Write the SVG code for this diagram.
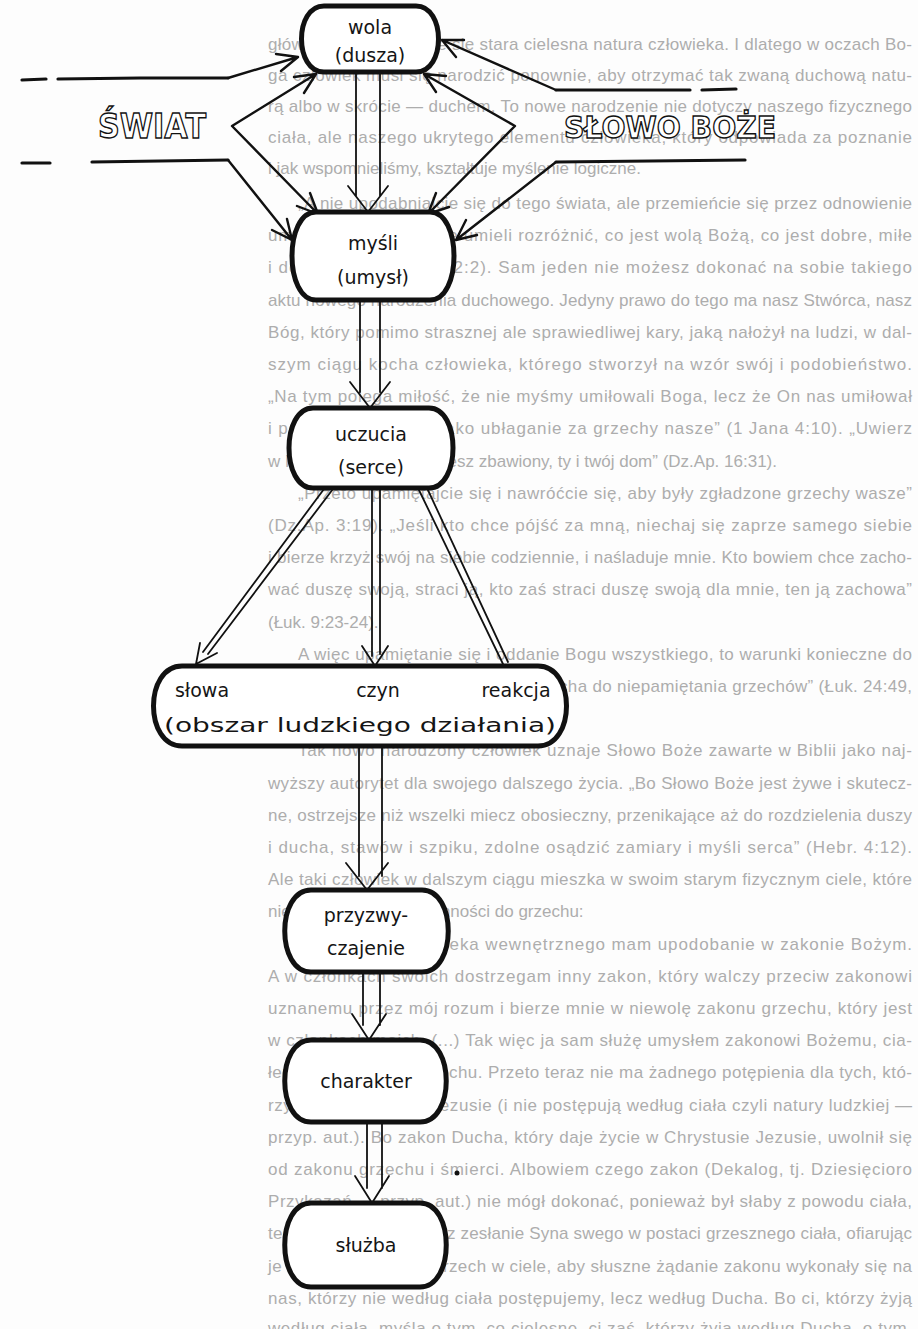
<svg xmlns="http://www.w3.org/2000/svg" width="918" height="1329" viewBox="0 0 918 1329">
<style>
.t{font-family:'Liberation Sans Narrow','Liberation Sans',Arial,sans-serif;font-size:17px;fill:#adadad}
.box{fill:#fff;stroke:#111;stroke-width:5;stroke-linejoin:round}
.lb{font-family:'DejaVu Sans',sans-serif;font-size:19px;fill:#151515;text-anchor:middle}
.big{font-family:'DejaVu Sans',sans-serif;font-weight:bold;fill:#fff;stroke:#111;stroke-width:1.4}
.ln{fill:none;stroke:#111;stroke-width:2.4;stroke-linecap:round;stroke-linejoin:round}
.hl{fill:none;stroke:#111;stroke-width:3.2;stroke-linecap:round}
.sh{fill:none;stroke:#111;stroke-width:1.8;stroke-linecap:round;stroke-linejoin:round}
</style>
<rect width="918" height="1329" fill="#fdfdfd"/>
<g id="page-text">
<text class="t" x="268" y="50" textLength="644" lengthAdjust="spacing">głównie charakteryzuje się stara cielesna natura człowieka. I dlatego w oczach Bo-</text>
<text class="t" x="268" y="81" textLength="644" lengthAdjust="spacing">ga człowiek musi się narodzić ponownie, aby otrzymać tak zwaną duchową natu-</text>
<text class="t" x="268" y="112" textLength="644" lengthAdjust="spacing">rą albo w skrócie — duchem. To nowe narodzenie nie dotyczy naszego fizycznego</text>
<text class="t" x="268" y="143" textLength="644" lengthAdjust="spacing">ciała, ale naszego ukrytego elementu człowieka, który odpowiada za poznanie</text>
<text class="t" x="268" y="174">i jak wspomnieliśmy, kształtuje myślenie logiczne.</text>
<text class="t" x="298" y="209" textLength="614" lengthAdjust="spacing">„A nie upodabniajcie się do tego świata, ale przemieńcie się przez odnowienie</text>
<text class="t" x="268" y="241" textLength="644" lengthAdjust="spacing">umysłu swego, abyście umieli rozróżnić, co jest wolą Bożą, co jest dobre, miłe</text>
<text class="t" x="268" y="273" textLength="644" lengthAdjust="spacing">i doskonałe” (Rzym. 12:2). Sam jeden nie możesz dokonać na sobie takiego</text>
<text class="t" x="268" y="306" textLength="644" lengthAdjust="spacing">aktu nowego narodzenia duchowego. Jedyny prawo do tego ma nasz Stwórca, nasz</text>
<text class="t" x="268" y="338" textLength="644" lengthAdjust="spacing">Bóg, który pomimo strasznej ale sprawiedliwej kary, jaką nałożył na ludzi, w dal-</text>
<text class="t" x="268" y="370" textLength="644" lengthAdjust="spacing">szym ciągu kocha człowieka, którego stworzył na wzór swój i podobieństwo.</text>
<text class="t" x="268" y="402" textLength="644" lengthAdjust="spacing">„Na tym polega miłość, że nie myśmy umiłowali Boga, lecz że On nas umiłował</text>
<text class="t" x="268" y="434" textLength="644" lengthAdjust="spacing">i posłał Syna swego jako ubłaganie za grzechy nasze” (1 Jana 4:10). „Uwierz</text>
<text class="t" x="268" y="467">w Pana Jezusa, a będziesz zbawiony, ty i twój dom” (Dz.Ap. 16:31).</text>
<text class="t" x="298" y="499" textLength="614" lengthAdjust="spacing">„Przeto upamiętajcie się i nawróćcie się, aby były zgładzone grzechy wasze”</text>
<text class="t" x="268" y="531" textLength="644" lengthAdjust="spacing">(Dz.Ap. 3:19). „Jeśli kto chce pójść za mną, niechaj się zaprze samego siebie</text>
<text class="t" x="268" y="563" textLength="644" lengthAdjust="spacing">i bierze krzyż swój na siebie codziennie, i naśladuje mnie. Kto bowiem chce zacho-</text>
<text class="t" x="268" y="595" textLength="644" lengthAdjust="spacing">wać duszę swoją, straci ją, kto zaś straci duszę swoją dla mnie, ten ją zachowa”</text>
<text class="t" x="268" y="628">(Łuk. 9:23-24).</text>
<text class="t" x="298" y="660" textLength="614" lengthAdjust="spacing">A więc upamiętanie się i oddanie Bogu wszystkiego, to warunki konieczne do</text>
<text class="t" x="268" y="692" textLength="644" lengthAdjust="spacing">tego, aby On dał człowiekowi moc ducha do niepamiętania grzechów” (Łuk. 24:49,</text>
<text class="t" x="268" y="724">2 Tym. 1:7).</text>
<text class="t" x="298" y="756" textLength="614" lengthAdjust="spacing">Tak nowo narodzony człowiek uznaje Słowo Boże zawarte w Biblii jako naj-</text>
<text class="t" x="268" y="789" textLength="644" lengthAdjust="spacing">wyższy autorytet dla swojego dalszego życia. „Bo Słowo Boże jest żywe i skutecz-</text>
<text class="t" x="268" y="821" textLength="644" lengthAdjust="spacing">ne, ostrzejsze niż wszelki miecz obosieczny, przenikające aż do rozdzielenia duszy</text>
<text class="t" x="268" y="853" textLength="644" lengthAdjust="spacing">i ducha, stawów i szpiku, zdolne osądzić zamiary i myśli serca” (Hebr. 4:12).</text>
<text class="t" x="268" y="885" textLength="644" lengthAdjust="spacing">Ale taki człowiek w dalszym ciągu mieszka w swoim starym fizycznym ciele, które</text>
<text class="t" x="268" y="917">nie straciło swoich skłonności do grzechu:</text>
<text class="t" x="298" y="950" textLength="614" lengthAdjust="spacing">„Bo według człowieka wewnętrznego mam upodobanie w zakonie Bożym.</text>
<text class="t" x="268" y="982" textLength="644" lengthAdjust="spacing">A w członkach swoich dostrzegam inny zakon, który walczy przeciw zakonowi</text>
<text class="t" x="268" y="1014" textLength="644" lengthAdjust="spacing">uznanemu przez mój rozum i bierze mnie w niewolę zakonu grzechu, który jest</text>
<text class="t" x="268" y="1046" textLength="644" lengthAdjust="spacing">w członkach moich. (...) Tak więc ja sam służę umysłem zakonowi Bożemu, cia-</text>
<text class="t" x="268" y="1078" textLength="644" lengthAdjust="spacing">łem zaś zakonowi grzechu. Przeto teraz nie ma żadnego potępienia dla tych, któ-</text>
<text class="t" x="268" y="1111" textLength="644" lengthAdjust="spacing">rzy są w Chrystusie Jezusie (i nie postępują według ciała czyli natury ludzkiej —</text>
<text class="t" x="268" y="1143" textLength="644" lengthAdjust="spacing">przyp. aut.). Bo zakon Ducha, który daje życie w Chrystusie Jezusie, uwolnił się</text>
<text class="t" x="268" y="1175" textLength="644" lengthAdjust="spacing">od zakonu grzechu i śmierci. Albowiem czego zakon (Dekalog, tj. Dziesięcioro</text>
<text class="t" x="268" y="1207" textLength="644" lengthAdjust="spacing">Przykazań — przyp. aut.) nie mógł dokonać, ponieważ był słaby z powodu ciała,</text>
<text class="t" x="268" y="1239" textLength="644" lengthAdjust="spacing">tego dokonał Bóg: przez zesłanie Syna swego w postaci grzesznego ciała, ofiarując</text>
<text class="t" x="268" y="1272" textLength="644" lengthAdjust="spacing">je za grzech, potępił grzech w ciele, aby słuszne żądanie zakonu wykonały się na</text>
<text class="t" x="268" y="1304" textLength="644" lengthAdjust="spacing">nas, którzy nie według ciała postępujemy, lecz według Ducha. Bo ci, którzy żyją</text>
<text class="t" x="268" y="1334" textLength="644" lengthAdjust="spacing">według ciała, myślą o tym, co cielesne, ci zaś, którzy żyją według Ducha, o tym,</text>
</g>
<g id="connectors">
<path class="hl" d="M22 80 L46 79 M58 79 L140 78 L228 78"/>
<path class="ln" d="M228 78 L298 57 M276 54 L298 57 L281 71"/>
<path class="ln" d="M294 77 L316 74 L304 93 M316 74 L232 126 L318 214 M310 193 L318 214 L297 206"/>
<path class="hl" d="M22 163 L50 163 M92 162 L228 160"/>
<path class="ln" d="M228 160 L292 240 M287 219 L292 240 L272 230"/>
<path class="hl" d="M556 90 L690 90 M702 90 L736 89"/>
<path class="ln" d="M556 90 L442 40 M456 57 L442 40 L464 40"/>
<path class="ln" d="M436 92 L424 74 L446 76 M424 74 L515 126 L428 214 M449 207 L428 214 L436 193"/>
<path class="hl" d="M556 162 L745 160"/>
<path class="ln" d="M556 162 L456 240 M477 235 L456 240 L466 220"/>
<path class="sh" d="M356 72 V196 M380 72 V196 M348 186 L368 212 L388 186"/>
<path class="sh" d="M360 300 V392 M380 300 V392 M350 382 L370 408 L390 382"/>
<path class="sh" d="M324 489 L203 652 M333 489 L208 654 M217 653 L196 664 L200 643"/>
<path class="sh" d="M372 488 V656 M380 488 V654 M362 646 L375 666 L388 646"/>
<path class="sh" d="M418 488 L503 664 M427 488 L508 662"/>
<path class="sh" d="M359 746 V876 M382 746 V876 M346 863 L367 890 L388 863"/>
<path class="sh" d="M363 972 V1025 M380 972 V1025 M352 1014 L369 1040 L386 1014"/>
<path class="sh" d="M367 1122 V1188 M382 1122 V1188 M355 1176 L372 1203 L389 1176"/>
</g>
<g id="swiat">
<text class="big" x="98" y="138" font-size="34" textLength="108" lengthAdjust="spacingAndGlyphs">ŚWIAT</text>
</g>
<g id="slowo-boze">
<text class="big" x="564" y="138" font-size="30" textLength="212" lengthAdjust="spacingAndGlyphs">SŁOWO BOŻE</text>
</g>
<g id="wola">
<path class="box" d="M324 6 H416 C446 6 446 72 416 72 H324 C294 72 294 6 324 6 Z"/>
<text class="lb" x="370" y="34">wola</text>
<text class="lb" x="370" y="62">(dusza)</text>
</g>
<g id="mysli">
<path class="box" d="M316 212 H430 C462 212 462 300 430 300 H316 C284 300 284 212 316 212 Z"/>
<text class="lb" x="373" y="250">myśli</text>
<text class="lb" x="373" y="284">(umysł)</text>
</g>
<g id="uczucia">
<path class="box" d="M313 408 H429 C461 408 461 488 429 488 H313 C281 488 281 408 313 408 Z"/>
<text class="lb" x="371" y="441">uczucia</text>
<text class="lb" x="371" y="474">(serce)</text>
</g>
<g id="dzialanie">
<path class="box" d="M182 666 H538 C576 666 576 746 538 746 H182 C144 746 144 666 182 666 Z"/>
<text class="lb" x="202" y="697">słowa</text>
<text class="lb" x="378" y="697">czyn</text>
<text class="lb" x="516" y="697">reakcja</text>
<text class="lb" x="360" y="732" textLength="392" lengthAdjust="spacingAndGlyphs">(obszar ludzkiego działania)</text>
</g>
<g id="przyzwyczajenie">
<path class="box" d="M311 890 H422 C457 890 457 972 422 972 H311 C276 972 276 890 311 890 Z"/>
<text class="lb" x="366" y="922">przyzwy-</text>
<text class="lb" x="366" y="955">czajenie</text>
</g>
<g id="charakter">
<path class="box" d="M311 1040 H420 C455 1040 455 1122 420 1122 H311 C276 1122 276 1040 311 1040 Z"/>
<text class="lb" x="366" y="1088">charakter</text>
</g>
<g id="sluzba">
<path class="box" d="M311 1203 H420 C455 1203 455 1287 420 1287 H311 C276 1287 276 1203 311 1203 Z"/>
<text class="lb" x="366" y="1252">służba</text>
</g>
<circle cx="457" cy="1173" r="2.5" fill="#111"/>
</svg>
